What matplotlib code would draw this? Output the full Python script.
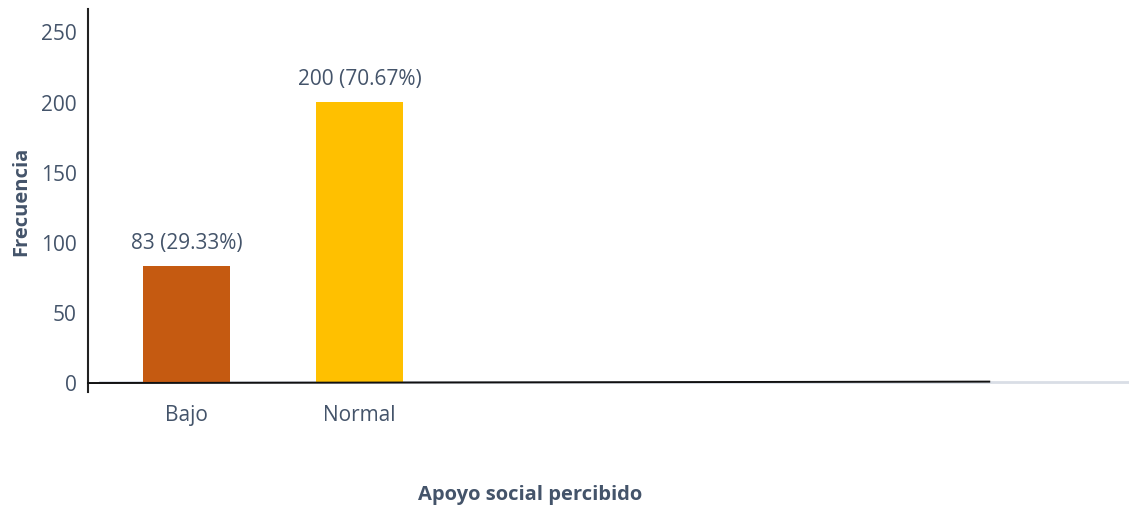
import matplotlib
matplotlib.use("Agg")
import matplotlib.pyplot as plt

categories = ["Bajo", "Normal"]
values = [83, 200]
labels = ["83 (29.33%)", "200 (70.67%)"]
colors = ["#C55A11", "#FFC000"]
yticks = [0, 50, 100, 150, 200, 250]

txt = "#44546A"
plt.rcParams['font.family'] = ['Open Sans', 'DejaVu Sans']

fig = plt.figure(figsize=(11.29, 5.10), dpi=100)
ax = fig.add_axes([88/1129, 117/510, 1040/1129, 383/510])

x = list(range(len(categories)))
ax.bar(x, values, width=0.5, color=colors, zorder=2)
for xi, v, lab in zip(x, values, labels):
    ax.text(xi, v + 9, lab, ha='center', va='bottom', fontsize=15, color=txt)

ax.set_xlim(-0.569, 5.442)
ax.set_ylim(-7, 266)
ax.set_yticks(yticks)
ax.set_yticklabels([str(t) for t in yticks], fontsize=15, color=txt)
ax.set_xticks(x)
ax.set_xticklabels(categories, fontsize=15, color=txt)
ax.tick_params(axis='both', length=0)
ax.tick_params(axis='y', pad=8)
ax.tick_params(axis='x', pad=9)

for s in ['top', 'right', 'bottom']:
    ax.spines[s].set_visible(False)
ax.spines['left'].set_color('#222222')
ax.spines['left'].set_linewidth(1.5)

ax.plot([-0.5, 5.5], [0, 0], color='#D9DEE6', lw=2, zorder=1, clip_on=False)
ax.plot([-0.569, 4.64], [-0.6, 0.4], color='#111111', lw=1.4, zorder=3, clip_on=False)

ax.set_ylabel("Frecuencia", fontsize=14.5, fontweight='bold', color=txt, labelpad=7)
fig.text(530/1129, 1 - 495/510, "Apoyo social percibido", ha='center', va='center',
         fontsize=14.5, fontweight='bold', color=txt)

fig.savefig("out.png", dpi=100)
